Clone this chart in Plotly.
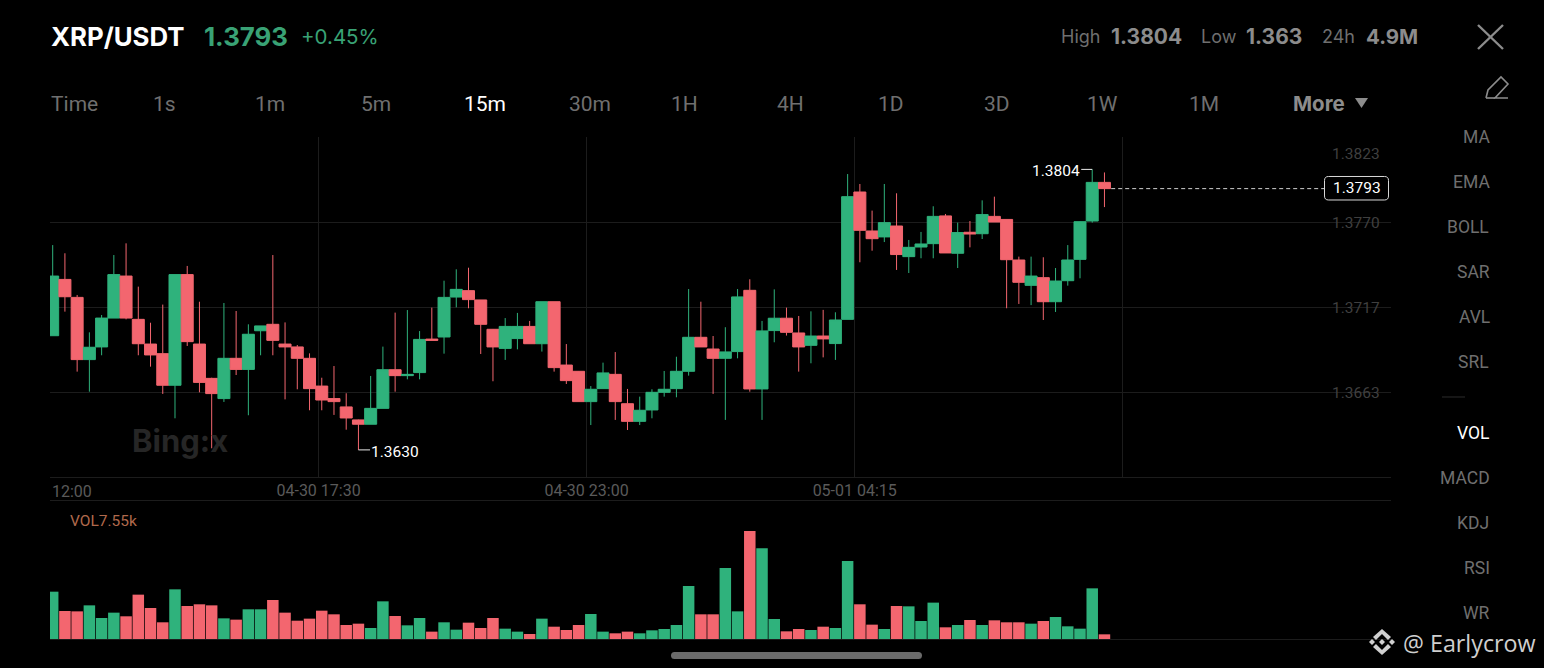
import plotly.graph_objects as go

W = 1544
H = 668
GREEN = "#2fb27c"
RED = "#f3666f"
GRID = "#1c1c1c"
DIM = "#6f6f6f"
AXIS_TEXT = "#3f3f3f"

open_prices = [
    1.36991, 1.37342, 1.37230, 1.36842, 1.36921, 1.37101, 1.37363, 1.37093, 1.36939, 1.36879,
    1.36682, 1.37372, 1.36939, 1.36725, 1.36599, 1.36850, 1.36781, 1.37022, 1.37062, 1.36939,
    1.36921, 1.36850, 1.36677, 1.36599, 1.36547, 1.36466, 1.36439, 1.36538, 1.36779, 1.36742,
    1.36761, 1.36970, 1.36983, 1.37232, 1.37272, 1.37214, 1.37031, 1.36912, 1.36973, 1.37049,
    1.36941, 1.37203, 1.36808, 1.36769, 1.36580, 1.36661, 1.36750, 1.36567, 1.36457, 1.36528,
    1.36638, 1.36661, 1.36769, 1.36981, 1.36908, 1.36850, 1.36892, 1.37274, 1.36659, 1.37023,
    1.37100, 1.37008, 1.36931, 1.36989, 1.36942, 1.37093, 1.37887, 1.37644, 1.37607, 1.37675,
    1.37484, 1.37544, 1.37565, 1.37738, 1.37505, 1.37636, 1.37627, 1.37735, 1.37716, 1.37463,
    1.37305, 1.37353, 1.37203, 1.37334, 1.37467, 1.37706, 1.37947,
]
high_prices = [
    1.37556, 1.37505, 1.37245, 1.37012, 1.37120, 1.37494, 1.37567, 1.37297, 1.37072, 1.37185,
    1.37372, 1.37426, 1.37203, 1.36729, 1.37195, 1.37145, 1.37062, 1.37052, 1.37494, 1.37074,
    1.36933, 1.36881, 1.36729, 1.36802, 1.36632, 1.36468, 1.36740, 1.36923, 1.37135, 1.37151,
    1.37020, 1.37166, 1.37334, 1.37405, 1.37415, 1.37214, 1.37033, 1.37101, 1.37133, 1.37083,
    1.37203, 1.37203, 1.36939, 1.36771, 1.36677, 1.36823, 1.36889, 1.36659, 1.36611, 1.36657,
    1.36771, 1.36860, 1.37282, 1.37203, 1.36989, 1.37044, 1.37282, 1.37343, 1.37083, 1.37280,
    1.37166, 1.37114, 1.37143, 1.37152, 1.37137, 1.37999, 1.37937, 1.37771, 1.37937, 1.37879,
    1.37588, 1.37638, 1.37798, 1.37750, 1.37696, 1.37706, 1.37835, 1.37858, 1.37716, 1.37484,
    1.37484, 1.37480, 1.37413, 1.37556, 1.37704, 1.38028, 1.38009,
]
low_prices = [
    1.36991, 1.37141, 1.36767, 1.36642, 1.36869, 1.37101, 1.37093, 1.36869, 1.36798, 1.36628,
    1.36476, 1.36927, 1.36638, 1.36289, 1.36578, 1.36746, 1.36495, 1.36869, 1.36869, 1.36594,
    1.36657, 1.36526, 1.36526, 1.36497, 1.36405, 1.36279, 1.36439, 1.36538, 1.36642, 1.36719,
    1.36719, 1.36962, 1.36879, 1.37168, 1.37162, 1.36877, 1.36707, 1.36840, 1.36906, 1.36941,
    1.36892, 1.36767, 1.36690, 1.36580, 1.36434, 1.36661, 1.36466, 1.36403, 1.36434, 1.36476,
    1.36611, 1.36607, 1.36742, 1.36921, 1.36628, 1.36466, 1.36850, 1.36642, 1.36466, 1.36950,
    1.36992, 1.36767, 1.36819, 1.36856, 1.36840, 1.37093, 1.37449, 1.37521, 1.37575, 1.37401,
    1.37382, 1.37474, 1.37474, 1.37507, 1.37413, 1.37542, 1.37594, 1.37700, 1.37162, 1.37189,
    1.37182, 1.37089, 1.37139, 1.37303, 1.37349, 1.37696, 1.37793,
]
close_prices = [
    1.37363, 1.37234, 1.36842, 1.36919, 1.37101, 1.37372, 1.37101, 1.36941, 1.36871, 1.36682,
    1.37372, 1.36954, 1.36700, 1.36630, 1.36850, 1.36781, 1.37000, 1.37052, 1.36962, 1.36921,
    1.36850, 1.36661, 1.36590, 1.36580, 1.36478, 1.36439, 1.36538, 1.36779, 1.36742, 1.36750,
    1.36968, 1.36962, 1.37230, 1.37280, 1.37216, 1.37062, 1.36921, 1.37049, 1.37049, 1.36941,
    1.37203, 1.36792, 1.36711, 1.36580, 1.36657, 1.36759, 1.36580, 1.36457, 1.36526, 1.36638,
    1.36657, 1.36769, 1.36981, 1.36921, 1.36850, 1.36890, 1.37233, 1.36659, 1.37021, 1.37100,
    1.37012, 1.36921, 1.36989, 1.36971, 1.37089, 1.37858, 1.37648, 1.37596, 1.37696, 1.37497,
    1.37542, 1.37563, 1.37735, 1.37507, 1.37634, 1.37625, 1.37746, 1.37700, 1.37465, 1.37324,
    1.37363, 1.37203, 1.37332, 1.37463, 1.37702, 1.37947, 1.37908,
]
# volume in thousands
volumes = [
    76.5, 45.3, 44.7, 54.4, 34.0, 42.6, 36.7, 71.7, 50.1, 27.0,
    80.3, 53.4, 56.1, 54.4, 33.4, 31.3, 48.0, 48.0, 63.1, 42.6,
    29.6, 32.9, 45.8, 39.9, 22.6, 24.8, 17.8, 60.9, 37.2, 22.1,
    34.0, 11.9, 27.0, 15.1, 26.4, 17.8, 34.0, 16.7, 11.9, 8.1,
    32.9, 19.9, 14.6, 22.6, 40.4, 11.9, 9.2, 11.9, 9.2, 14.0,
    16.2, 22.6, 85.7, 39.9, 39.9, 114.8, 44.7, 174.6, 146.6, 32.3,
    12.4, 16.2, 14.6, 19.9, 17.8, 126.1, 56.1, 23.2, 16.2, 53.4,
    52.8, 29.1, 58.8, 18.9, 22.6, 30.7, 22.6, 30.2, 27.0, 27.0,
    24.8, 29.1, 35.6, 20.5, 16.7, 81.9, 7.55,
]
price_ticks = [1.3823, 1.3770, 1.3717, 1.3664]
price_tick_labels = ["1.3823", "1.3770", "1.3717", "1.3663"]
time_ticks = [21.74, 43.65, 65.58, 87.5]
time_tick_labels = ["04-30 17:30", "04-30 23:00", "05-01 04:15", ""]
intervals = ["Time", "1s", "1m", "5m", "15m", "30m", "1H", "4H", "1D", "3D", "1W", "1M"]
interval_x = [74, 164, 270, 376, 485, 590, 684, 790, 891, 997, 1102, 1204]
indicators = ["MA", "EMA", "BOLL", "SAR", "AVL", "SRL", "VOL", "MACD", "KDJ", "RSI", "WR"]
indicator_x = [1476, 1471, 1468, 1473, 1474, 1473, 1473, 1465, 1473, 1477, 1476]
indicator_y = [137, 182, 227, 272, 317, 362, 433, 478, 523, 568, 613]

idx = list(range(len(open_prices)))
bar_colors = [GREEN if c > o else RED for o, c in zip(open_prices, close_prices)]


def px(x):
    return x / W


def py(y):
    return 1 - y / H


def note(text, x, y, size, color, anchor="left", bold=False, family="Inter"):
    # annotations carry about 2px of padding on the anchored side
    if anchor == "left":
        x -= 2
    fig.add_annotation(
        text=text, xref="paper", yref="paper", x=px(x), y=py(y),
        xanchor=anchor, yanchor="middle", showarrow=False,
        font=dict(size=size, color=color, family=family, weight="bold" if bold else "normal"),
    )


def poly(points, color=None, line=None, width=1, close=True):
    d = "M" + " L".join(f"{px(a):.5f},{py(b):.5f}" for a, b in points)
    if close:
        d += " Z"
    fig.add_shape(
        type="path", path=d, xref="paper", yref="paper",
        fillcolor=color if color else "rgba(0,0,0,0)",
        line=dict(color=line if line else "rgba(0,0,0,0)", width=width),
    )


def pill(x0, y0, x1, y1, r, color=None, line=None, width=1):
    xr = r / W
    yr = r / H
    a, b, c, d = px(x0), py(y0), px(x1), py(y1)
    path = (
        f"M{a + xr:.5f},{b:.5f} L{c - xr:.5f},{b:.5f} Q{c:.5f},{b:.5f} {c:.5f},{b - yr:.5f} "
        f"L{c:.5f},{d + yr:.5f} Q{c:.5f},{d:.5f} {c - xr:.5f},{d:.5f} "
        f"L{a + xr:.5f},{d:.5f} Q{a:.5f},{d:.5f} {a:.5f},{d + yr:.5f} "
        f"L{a:.5f},{b - yr:.5f} Q{a:.5f},{b:.5f} {a + xr:.5f},{b:.5f} Z"
    )
    fig.add_shape(
        type="path", path=path, xref="paper", yref="paper",
        fillcolor=color if color else "rgba(0,0,0,0)",
        line=dict(color=line if line else "rgba(0,0,0,0)", width=width),
    )


fig = go.Figure()
fig.add_trace(go.Candlestick(
    x=idx, open=open_prices, high=high_prices, low=low_prices, close=close_prices,
    whiskerwidth=0,
    increasing=dict(line=dict(color=GREEN, width=1), fillcolor=GREEN),
    decreasing=dict(line=dict(color=RED, width=1), fillcolor=RED),
    xaxis="x", yaxis="y", showlegend=False,
))
fig.add_trace(go.Bar(
    x=idx, y=volumes, marker=dict(color=bar_colors, line=dict(width=0)),
    xaxis="x2", yaxis="y2", showlegend=False,
))

x_range = [-0.22, 109.43]
fig.update_layout(
    width=W, height=H, margin=dict(l=0, r=0, t=0, b=0),
    paper_bgcolor="#000000", plot_bgcolor="#000000",
    boxgap=0.02, boxgroupgap=0, bargap=0.06, showlegend=False,
    xaxis=dict(
        domain=[px(50), px(1391)], range=x_range, anchor="y",
        rangeslider=dict(visible=False),
        tickmode="array", tickvals=time_ticks, ticktext=time_tick_labels,
        showgrid=True, gridcolor=GRID, gridwidth=1, zeroline=False,
        showline=True, linecolor=GRID, ticks="", ticklabelstandoff=-1,
        tickfont=dict(size=16, color="#5a5a5a", family="Roboto"),
    ),
    yaxis=dict(
        domain=[py(477), py(137)], range=[1.3611, 1.3823], anchor="x", side="right",
        tickmode="array", tickvals=price_ticks, showticklabels=False,
        showgrid=True, gridcolor=GRID, gridwidth=1, zeroline=False, showline=False, ticks="",
    ),
    xaxis2=dict(
        domain=[px(50), px(1391)], range=x_range, anchor="y2",
        showticklabels=False, showgrid=False, zeroline=False, ticks="",
        showline=True, mirror=True, linecolor=GRID, layer="below traces",
    ),
    yaxis2=dict(
        domain=[py(639), py(501)], range=[0, 223.1], anchor="x2",
        showticklabels=False, showgrid=False, zeroline=False, showline=False, ticks="",
    ),
)

# last price line and the high / low markers
fig.add_shape(
    type="line", xref="x", yref="y", x0=idx[-1] + 0.55, x1=104.0,
    y0=close_prices[-1], y1=close_prices[-1],
    line=dict(color="#d0d0d0", width=1, dash="4px,3px"),
)
pill(1324.5, 176.5, 1388.5, 200, 4, color="#000000", line="#d8d8d8", width=1)
note("1.3793", 1356.5, 188, 15.5, "#ffffff", "center", family="Roboto")

hi_i = high_prices.index(max(high_prices))
lo_i = low_prices.index(min(low_prices))
fig.add_shape(type="line", xref="x", yref="y", x0=hi_i - 0.9, x1=hi_i,
              y0=high_prices[hi_i], y1=high_prices[hi_i], line=dict(color="#e8e8e8", width=1))
fig.add_shape(type="line", xref="x", yref="y", x0=lo_i, x1=lo_i + 0.95,
              y0=low_prices[lo_i], y1=low_prices[lo_i], line=dict(color="#e8e8e8", width=1))
note("1.3804", 1032, 171, 15.5, "#ffffff", family="Roboto")
note("1.3630", 371, 452, 15.5, "#ffffff", family="Roboto")

# price labels sit inside the plot, the top one below its grid line
for value, label in zip(price_ticks, price_tick_labels):
    fig.add_annotation(
        text=label, xref="paper", yref="y", x=px(1382), y=value, xanchor="right", yanchor="middle",
        yshift=-17 if label == "1.3823" else -1, showarrow=False,
        font=dict(size=15.5, color=AXIS_TEXT, family="Roboto"),
    )
note("12:00", 52, 491, 16, "#5a5a5a", family="Roboto")
note("VOL7.55k", 70, 521, 15.5, "#b0694c", family="Roboto")
note("Bing:x", 132, 440, 31, "#262626", bold=True)

# header row
note("XRP/USDT", 51, 37, 25.8, "#ffffff", bold=True)
note("1.3793", 204, 37, 25.8, "#39a275", bold=True)
note("+0.45%", 301, 37, 20.5, "#39a275")
note("High", 1061, 37, 18, DIM)
note("1.3804", 1111, 37, 21, "#8c8c8c", bold=True)
note("Low", 1201, 37, 18, DIM)
note("1.363", 1246, 37, 21, "#8c8c8c", bold=True)
note("24h", 1322, 37, 18, DIM)
note("4.9M", 1366, 37, 20.5, "#8c8c8c", bold=True)

for name, x in zip(intervals, interval_x):
    note(name, x, 104, 21, "#ffffff" if name == "15m" else DIM, "center", family="Roboto")
note("More", 1319, 103, 20.5, "#8c8c8c", "center", bold=True)
poly([(1355, 98), (1368, 98), (1361.5, 108)], color="#8c8c8c")

for name, x, y in zip(indicators, indicator_x, indicator_y):
    note(name, x, y, 17.5, "#ffffff" if name == "VOL" else DIM, "center", family="Roboto")
poly([(1442, 397), (1465, 397)], line="#2c2c2c", close=False)

# close cross and pencil
poly([(1478, 25), (1503, 49)], line="#8c8c8c", width=2.4, close=False)
poly([(1503, 25), (1478, 49)], line="#8c8c8c", width=2.4, close=False)
poly([(1486, 98), (1488, 90), (1501, 77), (1508, 84), (1495, 98), (1508, 98)],
     line="#8c8c8c", width=1.6, close=False)
poly([(1486, 98), (1495, 98)], line="#8c8c8c", width=1.6, close=False)

# watermark and home bar
diamond = "#d0d0d0"
poly([(1382, 629), (1391, 637), (1388, 640), (1382, 634), (1376, 640), (1373, 637)], color=diamond)
poly([(1382, 655), (1391, 647), (1388, 644), (1382, 650), (1376, 644), (1373, 647)], color=diamond)
poly([(1382, 639), (1385, 642), (1382, 645), (1379, 642)], color=diamond)
poly([(1372, 639), (1375, 642), (1372, 645), (1369, 642)], color=diamond)
poly([(1392, 639), (1395, 642), (1392, 645), (1389, 642)], color=diamond)
note("@ Earlycrow", 1403, 643, 23.3, "#cfcfcf", family="Open Sans")
pill(671, 652, 922, 659, 3.5, color="#6b6b6b")

fig.write_html(
    "out.html",
    config=dict(displayModeBar=False),
    post_script="document.body.style.margin='0';document.body.style.background='#000';"
                "document.documentElement.style.overflow='hidden';",
)
